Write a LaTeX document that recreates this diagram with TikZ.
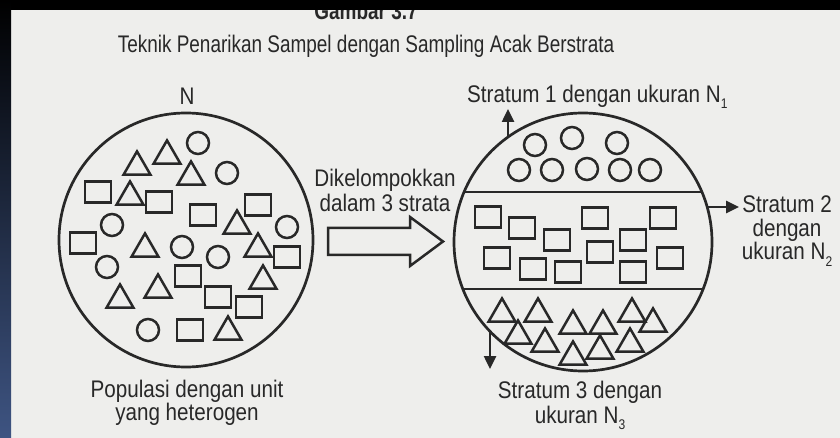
\documentclass[tikz,border=0pt]{standalone}
\usepackage{fontspec}
\setmainfont{Liberation Sans}
\newfontfamily\lab[FakeStretch=0.86]{Liberation Sans}
\newfontfamily\ttlfont[FakeStretch=0.79]{Liberation Sans}
\usetikzlibrary{shapes.geometric,arrows.meta}
\definecolor{paper}{RGB}{238,238,236}
\definecolor{ink}{RGB}{40,40,40}
\definecolor{frameblue}{RGB}{62,84,130}
\newcommand{\lowsub}[1]{\raisebox{-6pt}{\fontsize{14}{14}\selectfont #1}}
\begin{document}
\begin{tikzpicture}[x=1pt,y=-1pt,
  shp/.style={draw=ink,line width=2.5pt,inner sep=0pt,outer sep=0pt},
  circ/.style={shp,circle,minimum size=22pt},
  sq/.style={shp,rectangle,minimum width=26pt,minimum height=21pt},
  tri/.style={shp,regular polygon,regular polygon sides=3,minimum size=31pt,yshift=-3.9pt},
  big/.style={draw=ink,line width=2.7pt,circle,inner sep=0pt,outer sep=0pt},
  txt/.style={text=ink,inner sep=0pt,anchor=base,font=\lab\fontsize{24}{24}\selectfont},
  ttl/.style={text=ink,inner sep=0pt,anchor=base,font=\ttlfont\fontsize{24}{24}\selectfont},
  ptr/.style={draw=ink,line width=2.5pt,-{Triangle[length=13pt,width=12pt]}},
]
\fill[paper] (0,0) rectangle (840,438);
\useasboundingbox (0,0) rectangle (840,438);

% titles
\node[ttl,font=\ttlfont\bfseries\fontsize{24}{24}\selectfont] (gb) at (366,20) {Gambar 3.7};
\node[ttl] (title) at (366,53) {Teknik Penarikan Sampel dengan Sampling Acak Berstrata};

% big circles
\node[big,minimum size=254pt] (L) at (186,240) {};
\node[big,minimum size=258pt] (R) at (583,242) {};

% left circle shapes
\foreach \p [count=\i] in {(198,143),(227,173),(112,225),(182,247),(218,257),(107,267),(287,227),(148,330)}
  \node[circ] (lc\i) at \p {};
\foreach \p [count=\i] in {(167,152),(137,163),(191,173),(130,193),(237,222),(145,245),(258,245),(120,296),(158,286),(263,277),(228,328)}
  \node[tri] (lt\i) at \p {};
\foreach \p [count=\i] in {(98,192),(159,202),(203,215),(258,205),(83,243),(287,257),(188,276),(218,297),(249,307),(190,330)}
  \node[sq] (ls\i) at \p {};

% right circle: strata
\draw[ink,line width=2.5pt] (464,192) -- (702,192);
\draw[ink,line width=2.5pt] (463,289) -- (703,289);
\foreach \p [count=\i] in {(535,145),(572,138),(617,143),(519,170),(552,170),(587,169),(620,170),(650,170)}
  \node[circ] (rc\i) at \p {};
\foreach \p [count=\i] in {(488,217),(522,228),(557,240),(595,218),(633,240),(663,218),(497,258),(533,269),(568,272),(600,252),(633,272),(670,258)}
  \node[sq] (rs\i) at \p {};
\foreach \p [count=\i] in {(502,310),(538,310),(573,322),(603,322),(632,310),(653,320),(518,332),(545,340),(573,353),(600,347),(630,340)}
  \node[tri] (rt\i) at \p {};

% hollow arrow
\draw[ink,line width=2.5pt,line join=miter] (328,228) -- (410,228) -- (410,217) -- (443,241.5) -- (410,266) -- (410,255) -- (328,255) -- cycle;

% pointer arrows
\coordinate (a1s) at (508,137); \coordinate (a1e) at (508,109);
\coordinate (a2s) at (707,207); \coordinate (a2e) at (739,207);
\coordinate (a3s) at (490,331); \coordinate (a3e) at (490,369);
\draw[ptr] (a1s) -- (a1e);
\draw[ptr] (a2s) -- (a2e);
\draw[ptr] (a3s) -- (a3e);

% labels
\node[txt] (nlab) at (187,105) {N};
\node[txt,anchor=base west] (s1) at (467,103) {Stratum 1 dengan ukuran N\lowsub{1}};
\node[txt] (dk1) at (385,187) {Dikelompokkan};
\node[txt] (dk2) at (385,212) {dalam 3 strata};
\node[txt] (s2a) at (787,213) {Stratum 2};
\node[txt] (s2b) at (787,237) {dengan};
\node[txt] (s2c) at (787,260) {ukuran N\lowsub{2}};
\node[txt] (s3a) at (580,398) {Stratum 3 dengan};
\node[txt] (s3b) at (580,423) {ukuran N\lowsub{3}};
\node[txt] (p1) at (187,397) {Populasi dengan unit};
\node[txt] (p2) at (187,420) {yang heterogen};

% scan frame
\fill[black] (0,0) rectangle (840,10);
\shade[top color=black,bottom color=frameblue] (0,0) rectangle (11,438);
\end{tikzpicture}
\end{document}
